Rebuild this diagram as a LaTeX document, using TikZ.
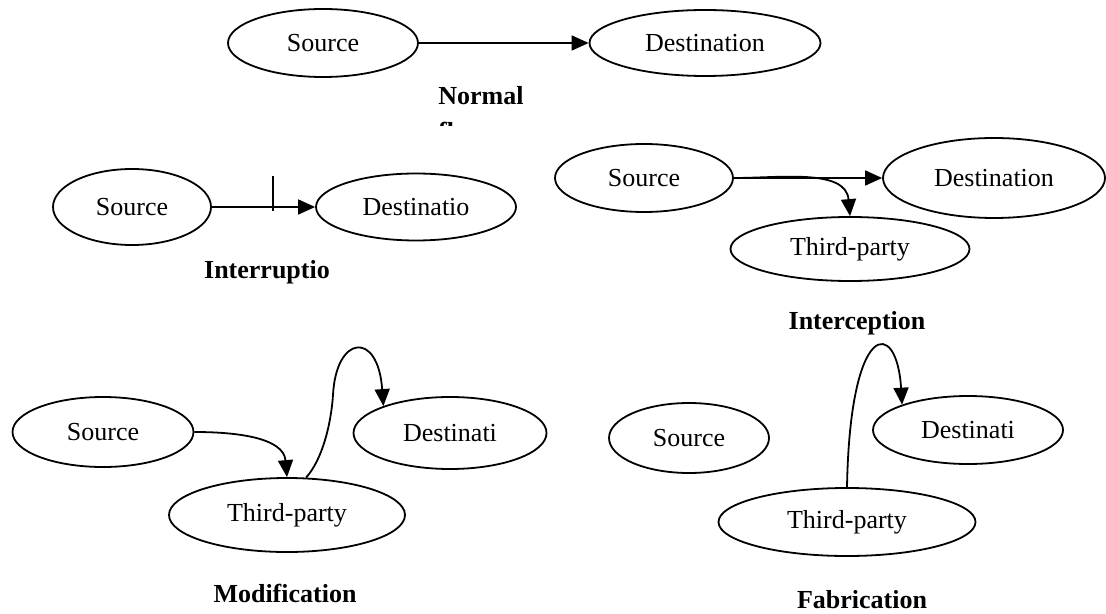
\documentclass[tikz,border=0pt]{standalone}
\usepackage{fontspec}
\setmainfont{Liberation Serif}
\usetikzlibrary{shapes.geometric, arrows.meta}
\begin{document}
\begin{tikzpicture}[x=0.5pt, y=-0.5pt, line width=0.9pt,
	ell/.style 2 args={draw, ellipse, inner sep=0pt, minimum width=#1, minimum height=#2, font=\fontsize{13}{15}\selectfont},
	attack/.style={inner sep=0pt, font=\fontsize{13}{15}\selectfont\bfseries},
	arr/.style={-{Triangle[length=8.5pt,width=7.5pt]}}]
	\useasboundingbox (0,0) rectangle (1106,614);
	\node[ell={95pt}{34pt}] (src1) at (323, 43) {Source};
	\node[ell={115.5pt}{33pt}] (dst1) at (705, 43) {Destination};
	\node[attack] (lbl1) at (481, 96) {Normal};
	\begin{scope}
		\clip (400, 110) rectangle (560, 126);
		\node[attack] (lbl1b) at (462, 131) {flow};
	\end{scope}
	\draw[arr] (src1) to (dst1);
	\node[ell={79pt}{38pt}] (src2) at (132, 207) {Source};
	\node[ell={100pt}{33.5pt}] (dst2) at (416, 207) {Destinatio};
	\node[attack] (lbl2) at (267, 272) {Interruptio};
	\draw[arr] (src2) to (dst2);
	\draw (273, 176) to (273, 211);
	\node[ell={89pt}{34pt}] (src3) at (644, 178) {Source};
	\node[ell={111pt}{40pt}] (dst3) at (994, 178) {Destination};
	\node[ell={119.5pt}{32pt}] (thp3) at (850, 249) {Third-party};
	\node[attack] (lbl3) at (857, 323) {Interception};
	\draw[arr] (src3) to (dst3);
	\draw[arr] (src3.east) to[out=0, in=95] (thp3.north);
	\node[ell={90.5pt}{35pt}] (src4) at (103, 432) {Source};
	\node[ell={118pt}{37pt}] (thp4) at (287, 515) {Third-party};
	\node[ell={96.5pt}{36pt}] (dst4) at (450, 433) {Destinati};
	\node[attack] (lbl4) at (285, 593) {Modification};
	\draw[arr] (src4.east) to[out=0, in=95] (thp4.north);
	\draw[arr] (thp4.63) .. controls (322, 460) and (331, 425) .. (333, 395)
		.. controls (336, 335) and (378, 330) .. (dst4.158);
	\node[ell={80pt}{35pt}] (src5) at (689, 438) {Source};
	\node[ell={95pt}{34pt}] (dst5) at (968, 430) {Destinati};
	\node[ell={128.5pt}{34pt}] (thp5) at (847, 522) {Third-party};
	\node[attack] (lbl5) at (862, 600) {Fabrication};
	\draw[arr] (thp5.north) .. controls (850, 318) and (897, 318) .. (dst5.159);
\end{tikzpicture}
\end{document}
